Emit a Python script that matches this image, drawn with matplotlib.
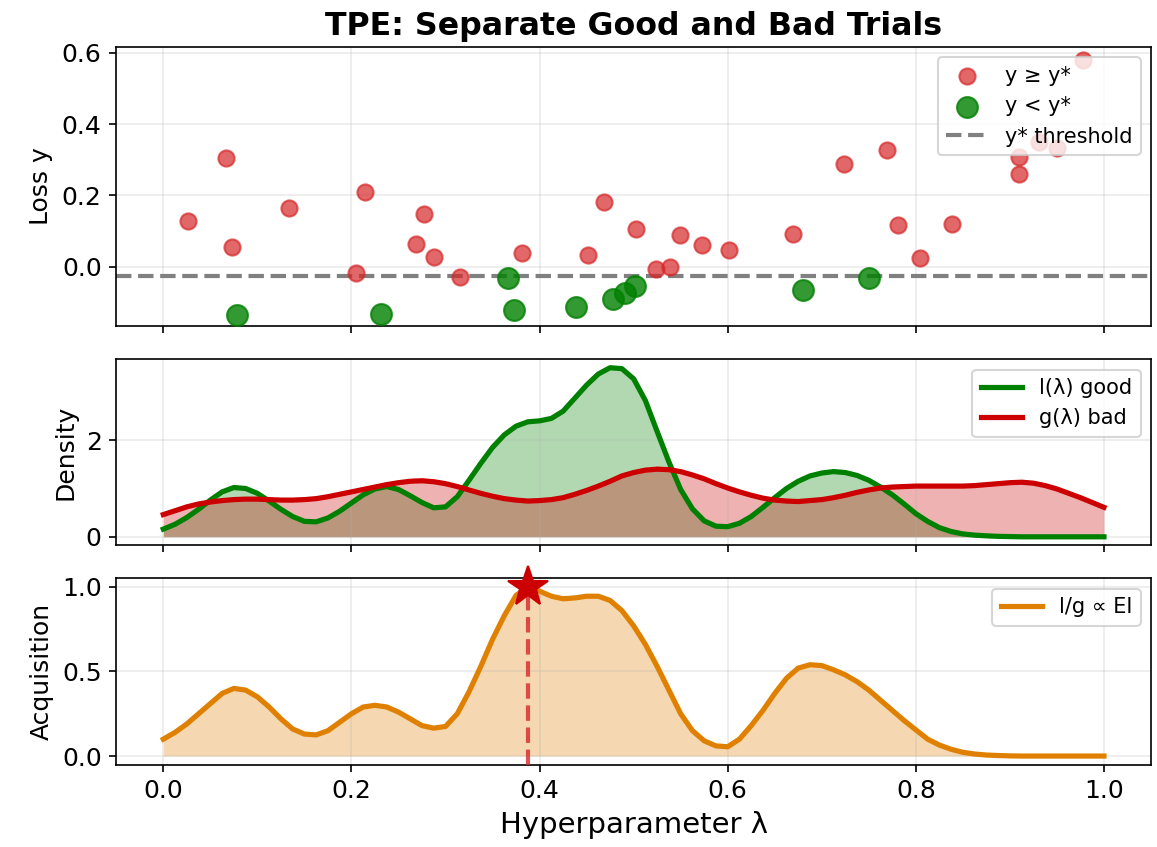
import matplotlib
matplotlib.use('Agg')
import matplotlib.pyplot as plt
import numpy as np

# trials: hyperparameter value and loss
bad_lam = [0.026, 0.067, 0.073, 0.134, 0.214, 0.205, 0.277, 0.269, 0.288, 0.315,
           0.381, 0.452, 0.469, 0.502, 0.524, 0.539, 0.549, 0.573, 0.601, 0.669,
           0.724, 0.769, 0.781, 0.804, 0.838, 0.910, 0.910, 0.931, 0.950, 0.978]
bad_loss = [0.128, 0.305, 0.056, 0.165, 0.209, -0.018, 0.148, 0.063, 0.028, -0.029,
            0.039, 0.034, 0.183, 0.107, -0.007, 0.000, 0.089, 0.060, 0.047, 0.092,
            0.288, 0.326, 0.117, 0.024, 0.121, 0.307, 0.261, 0.351, 0.333, 0.579]
good_lam = [0.078, 0.231, 0.366, 0.373, 0.439, 0.478, 0.491, 0.501, 0.680, 0.750]
good_loss = [-0.134, -0.131, -0.030, -0.121, -0.112, -0.089, -0.073, -0.054, -0.065, -0.032]
y_star = -0.025

lam = np.linspace(0, 1, 81)
l_good = [0.16, 0.26, 0.40, 0.57, 0.76, 0.93, 1.02, 1.00, 0.90, 0.74,
          0.57, 0.42, 0.32, 0.31, 0.39, 0.53, 0.70, 0.87, 0.99, 1.04,
          0.98, 0.85, 0.71, 0.60, 0.62, 0.83, 1.17, 1.52, 1.85, 2.11,
          2.29, 2.38, 2.40, 2.45, 2.60, 2.87, 3.14, 3.37, 3.50, 3.48,
          3.27, 2.82, 2.18, 1.55, 0.98, 0.58, 0.33, 0.22, 0.21, 0.28,
          0.42, 0.61, 0.81, 1.00, 1.15, 1.26, 1.32, 1.35, 1.33, 1.27,
          1.17, 1.03, 0.87, 0.68, 0.48, 0.32, 0.19, 0.11, 0.06, 0.035,
          0.02, 0.01, 0.005, 0.0, 0.0, 0.0, 0.0, 0.0, 0.0, 0.0,
          0.0]
g_bad = [0.46, 0.54, 0.62, 0.68, 0.72, 0.75, 0.77, 0.78, 0.78, 0.77,
         0.76, 0.76, 0.77, 0.79, 0.83, 0.88, 0.93, 0.98, 1.03, 1.08,
         1.12, 1.15, 1.16, 1.14, 1.10, 1.04, 0.97, 0.90, 0.84, 0.79,
         0.76, 0.74, 0.75, 0.77, 0.81, 0.88, 0.96, 1.05, 1.15, 1.26,
         1.33, 1.38, 1.40, 1.39, 1.35, 1.28, 1.20, 1.10, 1.01, 0.93,
         0.86, 0.80, 0.76, 0.74, 0.73, 0.75, 0.77, 0.81, 0.86, 0.92,
         0.97, 1.01, 1.03, 1.04, 1.05, 1.05, 1.05, 1.05, 1.05, 1.06,
         1.08, 1.10, 1.12, 1.13, 1.11, 1.06, 0.99, 0.90, 0.81, 0.71,
         0.61]
acq = [0.10, 0.14, 0.19, 0.25, 0.31, 0.37, 0.40, 0.39, 0.35, 0.29,
       0.22, 0.16, 0.13, 0.125, 0.15, 0.20, 0.25, 0.29, 0.30, 0.29,
       0.26, 0.22, 0.18, 0.165, 0.175, 0.25, 0.38, 0.53, 0.69, 0.83,
       0.95, 1.00, 0.975, 0.945, 0.93, 0.935, 0.945, 0.945, 0.92, 0.86,
       0.77, 0.66, 0.53, 0.39, 0.25, 0.15, 0.09, 0.06, 0.055, 0.10,
       0.18, 0.27, 0.37, 0.46, 0.52, 0.54, 0.535, 0.51, 0.48, 0.44,
       0.39, 0.33, 0.27, 0.21, 0.155, 0.10, 0.065, 0.04, 0.022, 0.012,
       0.006, 0.003, 0.001, 0.0, 0.0, 0.0, 0.0, 0.0, 0.0, 0.0,
       0.0]

acq = np.array(acq)
best = lam[np.argmax(acq)]

orange = '#e08000'
dred = '#cc0000'

fig, axes = plt.subplots(3, 1, figsize=(1157/150, 847/150), dpi=150, sharex=True,
                         gridspec_kw={'height_ratios': [1.5, 1, 1]})
plt.subplots_adjust(left=0.1005, right=0.9948, top=0.9445, bottom=0.0974, hspace=0.153)

ax = axes[0]
ax.scatter(bad_lam, bad_loss, s=60, color='#d62728', alpha=0.7, label='y ≥ y*', zorder=3)
ax.scatter(good_lam, good_loss, s=100, color='green', alpha=0.8, label='y < y*', zorder=3)
ax.axhline(y_star, color='gray', ls='--', lw=2, label='y* threshold')
ax.set_ylabel('Loss y', fontsize=12)
ax.set_title('TPE: Separate Good and Bad Trials', fontsize=15.2, fontweight='bold')
ax.set_ylim(-0.166, 0.616)
ax.set_yticks([0.0, 0.2, 0.4, 0.6])
ax.legend(loc='upper right', fontsize=10)
ax.grid(alpha=0.25)

ax = axes[1]
ax.fill_between(lam, 0, l_good, color='green', alpha=0.3, lw=0)
ax.fill_between(lam, 0, g_bad, color=dred, alpha=0.3, lw=0)
ax.plot(lam, l_good, color='green', lw=2.5, label='l(λ) good')
ax.plot(lam, g_bad, color=dred, lw=2.5, label='g(λ) bad')
ax.set_ylabel('Density', fontsize=12)
ax.legend(loc='upper right', fontsize=10)
ax.grid(alpha=0.25)

ax = axes[2]
ax.fill_between(lam, 0, acq, color=orange, alpha=0.3, lw=0)
ax.plot(lam, acq, color=orange, lw=2.5, label='l/g ∝ EI')
ax.axvline(best, color='#d62728', ls='--', lw=2, alpha=0.8, zorder=4)
ax.plot(best, acq.max(), marker='*', color=dred, markersize=20, zorder=5, clip_on=False)
ax.set_ylabel('Acquisition', fontsize=12)
ax.set_xlabel('Hyperparameter λ', fontsize=14)
ax.legend(loc='upper right', fontsize=10)
ax.grid(alpha=0.25)
ax.set_xlim(-0.05, 1.05)

for a in axes:
    a.tick_params(labelsize=12)

plt.savefig('out.png', dpi=150)
